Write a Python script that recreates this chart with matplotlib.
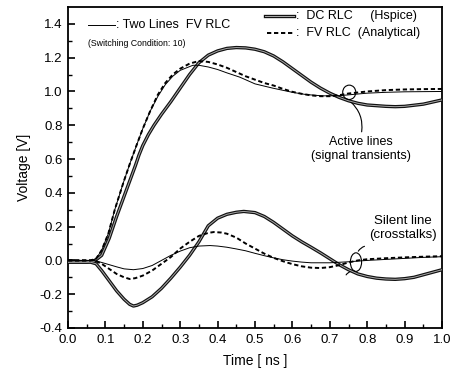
import matplotlib
matplotlib.use("Agg")
import matplotlib.pyplot as plt
from matplotlib.patches import Ellipse

plt.rcParams['font.family'] = ['Liberation Sans', 'DejaVu Sans']

# ---- data ----
t_dc_act = [0.00, 0.05, 0.07, 0.09, 0.11, 0.13, 0.15, 0.165, 0.18, 0.19, 0.20, 0.215, 0.23, 0.25,
            0.275, 0.30, 0.325, 0.35, 0.375, 0.40, 0.425, 0.45, 0.475, 0.50, 0.525, 0.55, 0.575,
            0.60, 0.625, 0.65, 0.675, 0.70, 0.725, 0.75, 0.775, 0.80, 0.85, 0.875, 0.90, 0.95, 1.00]
v_dc_act = [-0.01, -0.01, -0.005, 0.03, 0.13, 0.26, 0.38, 0.47, 0.56, 0.625, 0.68, 0.745, 0.80, 0.865,
            0.94, 1.02, 1.10, 1.17, 1.215, 1.24, 1.255, 1.26, 1.258, 1.25, 1.235, 1.21, 1.175,
            1.135, 1.095, 1.055, 1.02, 0.99, 0.965, 0.945, 0.93, 0.92, 0.912, 0.91, 0.912, 0.925, 0.95]

t_fv_act = [0.00, 0.06, 0.075, 0.09, 0.108, 0.125, 0.148, 0.165, 0.183, 0.20, 0.219, 0.24, 0.26,
            0.28, 0.30, 0.325, 0.35, 0.375, 0.40, 0.425, 0.45, 0.475, 0.50, 0.525, 0.55, 0.575,
            0.60, 0.625, 0.65, 0.675, 0.70, 0.725, 0.75, 0.80, 0.85, 0.90, 0.95, 1.00]
v_fv_act = [0.0, 0.0, 0.01, 0.06, 0.16, 0.30, 0.46, 0.57, 0.68, 0.78, 0.88, 0.98, 1.05,
            1.10, 1.135, 1.165, 1.18, 1.175, 1.16, 1.14, 1.115, 1.09, 1.07, 1.05, 1.035, 1.015,
            0.998, 0.986, 0.977, 0.972, 0.972, 0.978, 0.988, 1.0, 1.008, 1.012, 1.014, 1.015]

t_two_act = [0.00, 0.06, 0.075, 0.09, 0.108, 0.125, 0.148, 0.165, 0.183, 0.20, 0.219, 0.24, 0.26,
             0.28, 0.30, 0.334, 0.35, 0.375, 0.40, 0.425, 0.459, 0.50, 0.547, 0.60, 0.636,
             0.68, 0.725, 0.75, 0.80, 0.85, 0.90, 1.00]
v_two_act = [0.0, 0.0, 0.01, 0.06, 0.16, 0.30, 0.46, 0.57, 0.68, 0.78, 0.88, 0.97, 1.04,
             1.09, 1.125, 1.155, 1.155, 1.145, 1.13, 1.11, 1.085, 1.045, 1.02, 0.995, 0.982,
             0.974, 0.975, 0.98, 0.99, 0.995, 0.998, 1.0]

t_two_sil = [0.00, 0.07, 0.09, 0.11, 0.13, 0.15, 0.175, 0.20, 0.225, 0.25, 0.275, 0.30, 0.325,
             0.35, 0.38, 0.40, 0.425, 0.45, 0.475, 0.50, 0.525, 0.55, 0.575, 0.60, 0.625, 0.65,
             0.70, 0.75, 0.80, 0.85, 0.90, 0.95, 1.00]
v_two_sil = [0.0, 0.0, -0.012, -0.025, -0.038, -0.05, -0.055, -0.048, -0.03, 0.0, 0.03, 0.055, 0.075,
             0.085, 0.088, 0.085, 0.078, 0.068, 0.057, 0.042, 0.028, 0.015, 0.004, -0.004, -0.01, -0.014,
             -0.014, -0.008, 0.0, 0.006, 0.012, 0.018, 0.022]

t_fv_sil = [0.00, 0.07, 0.09, 0.11, 0.13, 0.15, 0.165, 0.18, 0.20, 0.225, 0.25, 0.275, 0.30, 0.325,
            0.35, 0.375, 0.39, 0.41, 0.425, 0.45, 0.475, 0.50, 0.525, 0.55, 0.575, 0.60, 0.625,
            0.65, 0.675, 0.70, 0.725, 0.75, 0.775, 0.80, 0.85, 0.90, 0.95, 1.00]
v_fv_sil = [0.0, 0.0, -0.02, -0.05, -0.08, -0.10, -0.11, -0.105, -0.09, -0.06, -0.02, 0.02, 0.07, 0.11,
            0.145, 0.163, 0.168, 0.165, 0.158, 0.135, 0.10, 0.07, 0.04, 0.015, -0.005, -0.022, -0.035,
            -0.043, -0.045, -0.04, -0.028, -0.012, 0.0, 0.007, 0.013, 0.018, 0.022, 0.025]

t_dc_sil = [0.00, 0.06, 0.075, 0.09, 0.11, 0.13, 0.15, 0.165, 0.175, 0.185, 0.20, 0.225, 0.25, 0.275,
            0.30, 0.325, 0.35, 0.375, 0.40, 0.425, 0.45, 0.47, 0.50, 0.525, 0.55, 0.575, 0.60, 0.625,
            0.65, 0.675, 0.70, 0.725, 0.75, 0.775, 0.80, 0.825, 0.85, 0.875, 0.90, 0.925, 0.95, 0.975, 1.00]
v_dc_sil = [-0.01, -0.01, -0.02, -0.06, -0.12, -0.18, -0.23, -0.26, -0.27, -0.265, -0.25, -0.215, -0.165, -0.105,
            -0.04, 0.03, 0.11, 0.205, 0.25, 0.273, 0.285, 0.29, 0.283, 0.26, 0.225, 0.185, 0.145, 0.11,
            0.078, 0.045, 0.01, -0.025, -0.055, -0.08, -0.095, -0.105, -0.11, -0.112, -0.108, -0.1, -0.085, -0.07, -0.055]

x_ticks = [0.0, 0.1, 0.2, 0.3, 0.4, 0.5, 0.6, 0.7, 0.8, 0.9, 1.0]
y_ticks = [-0.4, -0.2, 0.0, 0.2, 0.4, 0.6, 0.8, 1.0, 1.2, 1.4]

W, H = 453, 376
fig = plt.figure(figsize=(W / 100, H / 100), dpi=100)
ax = fig.add_axes([68 / W, 1 - 328 / H, (442 - 68) / W, (328 - 7) / H])

dash = (0, (2.2, 1.4))
DC_OUT, DC_IN = '#111111', '#a8a8a8'

def dc(t, v):
    ax.plot(t, v, color=DC_OUT, lw=2.4, solid_capstyle='round', zorder=3)
    ax.plot(t, v, color=DC_IN, lw=0.7, zorder=4)

dc(t_dc_act, v_dc_act)
dc(t_dc_sil, v_dc_sil)
ax.plot(t_fv_act, v_fv_act, color='black', lw=1.4, ls=dash, zorder=5)
ax.plot(t_fv_sil, v_fv_sil, color='black', lw=1.4, ls=dash, zorder=5)
ax.plot(t_two_act, v_two_act, color='black', lw=0.7, zorder=6)
ax.plot(t_two_sil, v_two_sil, color='black', lw=0.7, zorder=6)

ax.set_xlim(0.0, 1.0)
ax.set_ylim(-0.4, 1.5)
ax.set_xticks(x_ticks)
ax.set_xticklabels([f"{x:.1f}" for x in x_ticks])
ax.set_yticks(y_ticks)
ax.set_yticklabels([f"{y:.1f}" for y in y_ticks])
ax.set_xticks([0.05 + 0.1 * i for i in range(10)], minor=True)
ax.set_yticks([-0.3 + 0.2 * i for i in range(9)], minor=True)
ax.tick_params(which='major', direction='in', length=5, width=1.2, labelsize=9.5, pad=4)
ax.tick_params(which='minor', direction='in', length=3, width=1.0)
for s in ax.spines.values():
    s.set_linewidth(1.3)

ax.set_xlabel('Time [ ns ]', fontsize=10, labelpad=6)
ax.set_ylabel('Voltage [V]', fontsize=10, labelpad=6)

# ---- legend-like texts (figure pixel coordinates) ----
def fx(x):
    return x / W

def fy(y):
    return 1 - y / H

fig.add_artist(plt.Line2D([fx(88), fx(115)], [fy(25), fy(25)], color='black', lw=0.7))
fig.text(fx(116), fy(25), ': Two Lines  FV RLC', fontsize=9, va='center', ha='left')
fig.text(fx(88), fy(43), '(Switching Condition: 10)', fontsize=6.3, va='center', ha='left')

fig.add_artist(plt.Line2D([fx(265), fx(294)], [fy(16), fy(16)], color=DC_OUT, lw=2.4))
fig.add_artist(plt.Line2D([fx(265), fx(294)], [fy(16), fy(16)], color=DC_IN, lw=0.7))
fig.text(fx(296), fy(16), ':  DC RLC     (Hspice)', fontsize=9, va='center', ha='left')
fig.add_artist(plt.Line2D([fx(267), fx(294)], [fy(33), fy(33)], color='black', lw=1.4, ls=dash))
fig.text(fx(296), fy(33), ':  FV RLC  (Analytical)', fontsize=9, va='center', ha='left')

# ---- annotations ----
ax.add_patch(Ellipse((0.752, 0.995), 0.035, 0.085, fill=False, lw=0.8, color='black', zorder=7))
ax.annotate('', xy=(0.75, 0.95), xytext=(0.784, 0.745),
            arrowprops=dict(arrowstyle='-', lw=0.8, color='black',
                            connectionstyle='arc3,rad=0.3'))
ax.text(0.784, 0.66, 'Active lines\n(signal transients)', fontsize=9, ha='center', va='center',
        linespacing=1.2)

ax.add_patch(Ellipse((0.77, -0.01), 0.03, 0.11, fill=False, lw=0.8, color='black', zorder=7))
ax.annotate('', xy=(0.773, 0.04), xytext=(0.80, 0.087),
            arrowprops=dict(arrowstyle='-', lw=0.8, color='black',
                            connectionstyle='arc3,rad=0.3'))
ax.annotate('', xy=(0.74, -0.10), xytext=(0.765, -0.06),
            arrowprops=dict(arrowstyle='-', lw=0.8, color='black',
                            connectionstyle='arc3,rad=0.3'))
ax.text(0.896, 0.19, 'Silent line\n(crosstalks)', fontsize=9.5, ha='center', va='center',
        linespacing=1.2)

fig.savefig('out.png', dpi=100)
